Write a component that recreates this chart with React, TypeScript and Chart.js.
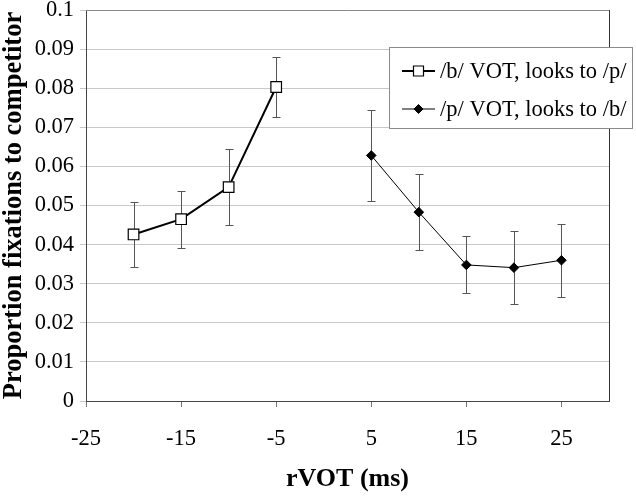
import React, { useEffect, useRef } from "react";
import { Chart, registerables } from "chart.js";

Chart.register(...registerables);

const bLabel = "/b/ VOT, looks to /p/";
const pLabel = "/p/ VOT, looks to /b/";
const bX = [-20, -15, -10, -5];
const bY = [0.0426, 0.0465, 0.0547, 0.0803];
const bErr = [0.0083, 0.0073, 0.0098, 0.0076];
const pX = [5, 10, 15, 20, 25];
const pY = [0.0628, 0.0483, 0.0348, 0.0341, 0.036];
const pErr = [0.0116, 0.0098, 0.0073, 0.0094, 0.0093];
const xTicks = [-25, -15, -5, 5, 15, 25];
const yTicks = [0, 0.01, 0.02, 0.03, 0.04, 0.05, 0.06, 0.07, 0.08, 0.09, 0.1];
const xTitle = "rVOT (ms)";
const yTitle = "Proportion fixations to competitor";

const SERIF = "'Liberation Serif', 'Times New Roman', serif";
const errs = [bErr, pErr];

const errorBarPlugin = {
  id: "errorBars",
  beforeDatasetsDraw(chart: any) {
    const ctx = chart.ctx;
    const xs = chart.scales.x;
    const ys = chart.scales.y;
    ctx.save();
    ctx.strokeStyle = "#555555";
    ctx.lineWidth = 1;
    chart.data.datasets.forEach((ds: any, di: number) => {
      ds.data.forEach((pt: any, i: number) => {
        const e = errs[di][i];
        const px = Math.round(xs.getPixelForValue(pt.x)) + 0.5;
        const top = Math.round(ys.getPixelForValue(pt.y + e)) + 0.5;
        const bot = Math.round(ys.getPixelForValue(pt.y - e)) + 0.5;
        ctx.beginPath();
        ctx.moveTo(px, top);
        ctx.lineTo(px, bot);
        ctx.moveTo(px - 4, top);
        ctx.lineTo(px + 4, top);
        ctx.moveTo(px - 4, bot);
        ctx.lineTo(px + 4, bot);
        ctx.stroke();
      });
    });
    ctx.restore();
  },
};

const frameLegendPlugin = {
  id: "frameLegend",
  beforeDraw(chart: any) {
    const { ctx } = chart;
    ctx.save();
    ctx.fillStyle = "#ffffff";
    ctx.fillRect(0, 0, chart.width, chart.height);
    ctx.restore();
  },
  afterDatasetsDraw(chart: any) {
    const { ctx, chartArea: a } = chart;
    ctx.save();
    ctx.lineWidth = 1;
    ctx.strokeStyle = "#8a8a8a";
    ctx.beginPath();
    ctx.moveTo(a.left, Math.round(a.top) + 0.5);
    ctx.lineTo(a.right, Math.round(a.top) + 0.5);
    ctx.stroke();
    ctx.strokeStyle = "#333333";
    ctx.beginPath();
    ctx.moveTo(Math.round(a.right) + 0.5, a.top);
    ctx.lineTo(Math.round(a.right) + 0.5, a.bottom);
    ctx.stroke();

    const lx = 389.5, ly = 47.5, lw = 243, lh = 81;
    ctx.fillStyle = "#ffffff";
    ctx.fillRect(lx, ly, lw, lh);
    ctx.strokeStyle = "#8a8a8a";
    ctx.strokeRect(lx, ly, lw, lh);
    const rows = [71, 109];
    chart.data.datasets.forEach((ds: any, i: number) => {
      const y = rows[i];
      ctx.strokeStyle = "#000000";
      ctx.lineWidth = ds.borderWidth;
      ctx.beginPath();
      ctx.moveTo(402, y);
      ctx.lineTo(435, y);
      ctx.stroke();
      ctx.fillStyle = ds.pointBackgroundColor;
      ctx.lineWidth = ds.pointBorderWidth;
      ctx.beginPath();
      if (ds.pointStyle === "rect") {
        ctx.rect(413.5, y - 5, 10, 10);
      } else {
        ctx.moveTo(418.5, y - 4.5);
        ctx.lineTo(423, y);
        ctx.lineTo(418.5, y + 4.5);
        ctx.lineTo(414, y);
        ctx.closePath();
      }
      ctx.fill();
      ctx.stroke();
      ctx.fillStyle = "#000000";
      ctx.font = "22.5px " + SERIF;
      ctx.textAlign = "left";
      ctx.textBaseline = "middle";
      ctx.fillText(ds.label, 440, y + 1);
    });
    ctx.restore();
  },
};

export default function App() {
  const ref = useRef<HTMLCanvasElement>(null);
  useEffect(() => {
    document.body.style.margin = "0";
    const canvas = ref.current!;
    const chart = new Chart(canvas, {
      type: "scatter",
      data: {
        datasets: [
          {
            label: bLabel,
            data: bX.map((x, i) => ({ x, y: bY[i] })),
            showLine: true,
            borderColor: "#000000",
            borderWidth: 2,
            pointStyle: "rect",
            pointRadius: 7.5,
            pointHoverRadius: 7.5,
            pointBackgroundColor: "#ffffff",
            pointBorderColor: "#000000",
            pointBorderWidth: 1.2,
          } as any,
          {
            label: pLabel,
            data: pX.map((x, i) => ({ x, y: pY[i] })),
            showLine: true,
            borderColor: "#000000",
            borderWidth: 1,
            pointStyle: "rectRot",
            pointRadius: 4.8,
            pointHoverRadius: 4.8,
            pointBackgroundColor: "#000000",
            pointBorderColor: "#000000",
            pointBorderWidth: 1,
          } as any,
        ],
      },
      options: {
        animation: false,
        responsive: false,
        maintainAspectRatio: false,
        layout: { padding: { top: 10, right: 27, left: 0, bottom: 0 } },
        plugins: {
          legend: { display: false },
          tooltip: { enabled: false },
        },
        scales: {
          x: {
            type: "linear",
            min: -25,
            max: 30,
            afterBuildTicks: (s: any) => {
              s.ticks = xTicks.map((v) => ({ value: v }));
            },
            afterFit: (s: any) => {
              s.height = 97;
              s.paddingLeft = 0;
              s.paddingRight = 0;
            },
            border: { display: true, color: "#444444", width: 1 },
            grid: {
              display: true,
              drawOnChartArea: false,
              drawTicks: true,
              tickLength: 6,
              color: "#777777",
            },
            ticks: {
              padding: 19,
              maxRotation: 0,
              autoSkip: false,
              color: "#000000",
              font: { family: SERIF, size: 22.5 },
              callback: (v: any) => String(v),
            },
            title: {
              display: true,
              text: xTitle,
              color: "#000000",
              font: { family: SERIF, size: 26, weight: "bold" },
              padding: { top: 0, bottom: 3 },
            },
          },
          y: {
            type: "linear",
            min: 0,
            max: 0.1,
            afterBuildTicks: (s: any) => {
              s.ticks = yTicks.map((v) => ({ value: v }));
            },
            afterFit: (s: any) => {
              s.width = 86;
              s.paddingTop = 0;
              s.paddingBottom = 0;
            },
            border: { display: true, color: "#444444", width: 1 },
            grid: {
              display: true,
              drawOnChartArea: true,
              drawTicks: true,
              tickLength: 6,
              color: "#c8c8c8",
            },
            ticks: {
              padding: 6,
              autoSkip: false,
              color: "#000000",
              font: { family: SERIF, size: 22.5 },
              callback: (v: any) => String(Math.round(v * 100) / 100),
            },
            title: {
              display: true,
              text: yTitle,
              color: "#000000",
              font: { family: SERIF, size: 26.5, weight: "bold", lineHeight: 1.1 },
              padding: { top: 0, bottom: 0 },
            },
          },
        },
      },
      plugins: [frameLegendPlugin, errorBarPlugin],
    });
    return () => chart.destroy();
  }, []);
  return (
    <div style={{ width: 636, height: 498 }}>
      <canvas ref={ref} width={636} height={498} />
    </div>
  );
}
